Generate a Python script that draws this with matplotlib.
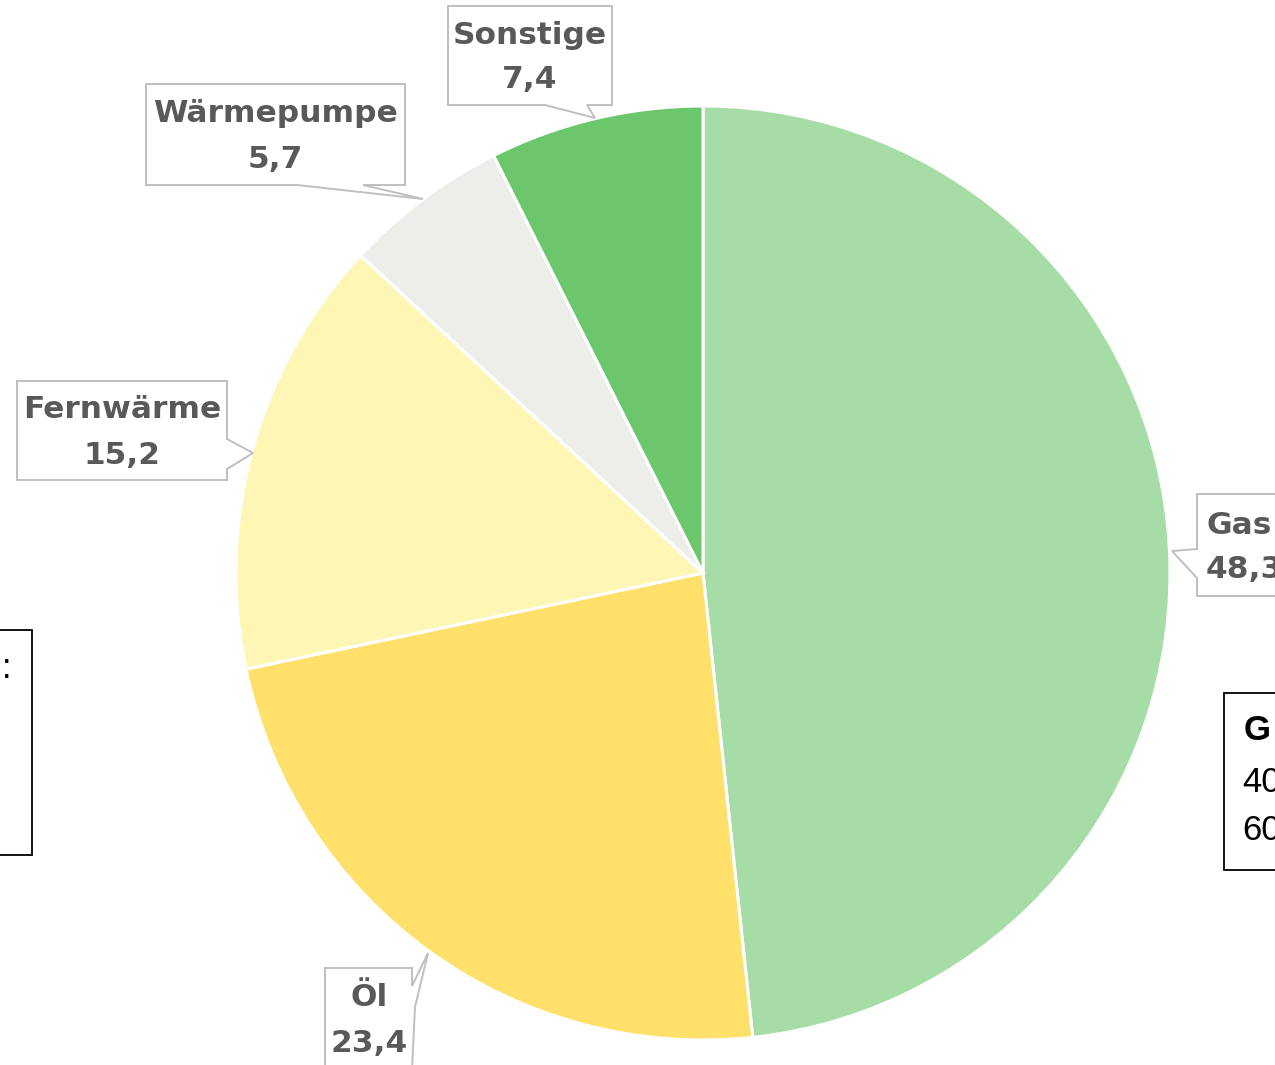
import matplotlib
matplotlib.use("Agg")
import matplotlib.pyplot as plt
from matplotlib.patches import Polygon, Rectangle

# data
labels = ['Gas', 'Öl', 'Fernwärme', 'Wärmepumpe', 'Sonstige']
values = [48.3, 23.4, 15.2, 5.7, 7.4]
colors = ['#A6DCA6', '#FEE06A', '#FEF6B4', '#EDEDE9', '#6CC76C']

W, H = 1275, 1065
fig = plt.figure(figsize=(W / 100, H / 100), dpi=100)
ax = fig.add_axes([0, 0, 1, 1])

def fy(y):
    # pixel row (from top) -> data y
    return H - y

ax.pie(values, colors=colors, startangle=90, counterclock=False,
       center=(703, fy(573)), radius=467,
       wedgeprops=dict(edgecolor='white', linewidth=2.2))

# callout boxes (outline incl. pointer), pixel coords from top
boxes = {
    'Gas': [(1197, 494), (1290, 494), (1290, 596), (1197, 596), (1197, 578),
            (1172, 551), (1197, 549)],
    'Öl': [(325, 968), (412, 968), (412, 986), (428, 953), (415, 1007),
           (412, 1070), (325, 1070)],
    'Fernwärme': [(17, 381), (227, 381), (227, 439), (253, 453), (227, 469),
                  (227, 480), (17, 480)],
    'Wärmepumpe': [(146, 84), (405, 84), (405, 185), (363, 185), (423, 199),
                   (297, 185), (146, 185)],
    'Sonstige': [(448, 6), (612, 6), (612, 105), (587, 105), (595, 118),
                 (545, 105), (448, 105)],
}
# text anchor (x, y of first line, alignment)
text_pos = {
    'Gas': (1206, 525, 'left'),
    'Öl': (369, 998, 'center'),
    'Fernwärme': (122, 410, 'center'),
    'Wärmepumpe': (275, 114, 'center'),
    'Sonstige': (530, 35, 'center'),
}

for lab, val in zip(labels, values):
    pts = [(x, fy(y)) for x, y in boxes[lab]]
    ax.add_patch(Polygon(pts, closed=True, facecolor='white',
                         edgecolor='#BFBFBF', linewidth=1.4, zorder=3))
    x, y, ha = text_pos[lab]
    txt = f'{val:.1f}'.replace('.', ',')
    ax.text(x, fy(y), lab, ha=ha, va='center', fontsize=22.5,
            fontweight='bold', color='#595959', family='DejaVu Sans', zorder=4)
    ax.text(x, fy(y + 45), txt, ha=ha, va='center', fontsize=22.5,
            fontweight='bold', color='#595959', family='DejaVu Sans', zorder=4)

# partially visible side boxes
ax.add_patch(Rectangle((-20, fy(855)), 52, 225, facecolor='white',
                       edgecolor='black', linewidth=1.3, zorder=3))
ax.text(11, fy(669), ':', ha='right', va='center', fontsize=25,
        family='Liberation Sans', color='black', zorder=4)

ax.add_patch(Rectangle((1224, fy(870)), 80, 177, facecolor='white',
                       edgecolor='black', linewidth=1.3, zorder=3))
ax.text(1244, fy(730), 'G', ha='left', va='center', fontsize=25,
        fontweight='bold', family='Liberation Sans', color='black', zorder=4)
ax.text(1242, fy(783), '40', ha='left', va='center', fontsize=25,
        family='Liberation Sans', color='black', zorder=4)
ax.text(1242, fy(830), '60', ha='left', va='center', fontsize=25,
        family='Liberation Sans', color='black', zorder=4)

ax.set_xlim(0, W)
ax.set_ylim(0, H)
ax.set_aspect('auto')
ax.axis('off')

fig.savefig('out.png', dpi=100, facecolor='white')
